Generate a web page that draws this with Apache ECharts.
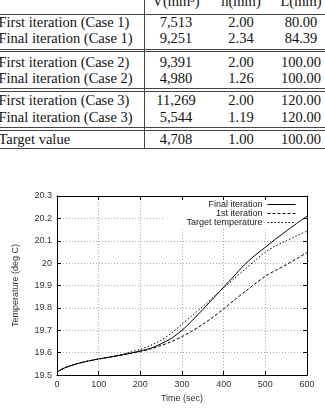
<!DOCTYPE html>
<html>
<head>
<meta charset="utf-8">
<script src="https://cdn.jsdelivr.net/npm/echarts@6/dist/echarts.min.js"></script>
<style>
  html, body { margin: 0; padding: 0; background: #fff; }
  #page { position: relative; width: 325px; height: 408px; overflow: hidden; background: #fff; }
  #table { position: absolute; left: 0; top: 0; width: 325px; height: 150px; z-index: 2;
    font-family: "Liberation Serif", "DejaVu Serif", serif; font-size: 14.5px; color: #111; }
  .cell { position: absolute; height: 16px; line-height: 16px; white-space: nowrap; }
  .num { width: 70px; margin-left: -35px; text-align: center; }
  .hl { position: absolute; left: 0; width: 325px; height: 1px; background: #444; }
  .vl { position: absolute; left: 144px; top: 0; width: 1px; height: 149px; background: #444; }
  #chart { position: absolute; left: 0; top: 150px; width: 325px; height: 258px; }
</style>
</head>
<body>
<div id="page">
  <div id="table"></div>
  <div id="chart"></div>
</div>
<script>
// table contents
const rowLabels = ['First iteration (Case 1)', 'Final iteration (Case 1)',
  'First iteration (Case 2)', 'Final iteration (Case 2)',
  'First iteration (Case 3)', 'Final iteration (Case 3)', 'Target value']
const colHeaders = ['V(mm³)', 'h(mm)', 'L(mm)']
const volumes = ['7,513', '9,251', '9,391', '4,980', '11,269', '5,544', '4,708']
const thickness = ['2.00', '2.34', '2.00', '1.26', '2.00', '1.19', '1.00']
const lengths = ['80.00', '84.39', '100.00', '100.00', '120.00', '120.00', '100.00']

// chart data
const times = [0, 10, 25, 50, 75, 100, 125, 150, 175, 200, 225, 250, 275, 300,
  325, 350, 375, 400, 425, 450, 475, 500, 525, 550, 575, 600]
const finalIter = [19.513, 19.525, 19.537, 19.552, 19.563, 19.572, 19.580, 19.588, 19.597,
  19.608, 19.620, 19.640, 19.665, 19.700, 19.745, 19.793, 19.843, 19.893, 19.943, 19.993,
  20.035, 20.071, 20.108, 20.143, 20.177, 20.210]
const firstIter = [19.513, 19.525, 19.537, 19.552, 19.563, 19.572, 19.580, 19.588, 19.596,
  19.605, 19.617, 19.632, 19.650, 19.672, 19.698, 19.727, 19.760, 19.796, 19.834, 19.871,
  19.907, 19.942, 19.968, 19.993, 20.020, 20.047]
const targetTemp = [19.513, 19.525, 19.537, 19.552, 19.563, 19.572, 19.580, 19.590, 19.602,
  19.615, 19.633, 19.656, 19.688, 19.728, 19.767, 19.807, 19.848, 19.890, 19.931, 19.971,
  20.011, 20.050, 20.077, 20.100, 20.122, 20.143]

// build the table
const tbl = document.getElementById('table')
const rowY = [22, 38, 62, 78, 100, 117, 139]
const colX = [176, 241, 301]
function addCell(text, x, y, cls) {
  const d = document.createElement('div')
  d.className = 'cell ' + (cls || '')
  d.textContent = text
  d.style.left = x + 'px'
  d.style.top = (y - 8) + 'px'
  tbl.appendChild(d)
}
colHeaders.forEach((h, i) => addCell(h, colX[i], 1, 'num'))
rowLabels.forEach((lab, r) => {
  addCell(lab, -1.5, rowY[r])
  addCell(volumes[r], colX[0], rowY[r], 'num')
  addCell(thickness[r], colX[1], rowY[r], 'num')
  addCell(lengths[r], colX[2], rowY[r], 'num')
})
;[14, 49, 51, 88, 91, 127, 130, 148].forEach(y => {
  const d = document.createElement('div')
  d.className = 'hl'
  d.style.top = y + 'px'
  tbl.appendChild(d)
})
const vl = document.createElement('div')
vl.className = 'vl'
tbl.appendChild(vl)

// chart
const pairs = (ys) => times.map((t, i) => [t, ys[i]])
const font = '"Liberation Sans", Arial, sans-serif'
const labelStyle = { fontSize: 9, color: '#333', fontFamily: font }
const gridLine = { show: true, lineStyle: { color: '#aaa', width: 1, type: [1, 2] } }
const frame = { show: true, onZero: false, lineStyle: { color: '#000', width: 1 } }
const ticks = { show: true, inside: true, length: 4, lineStyle: { color: '#000', width: 1 } }
const hiddenDot = { opacity: 0, color: 'transparent', borderWidth: 0 }

const chart = echarts.init(document.getElementById('chart'), null, { renderer: 'canvas' })
chart.setOption({
  animation: false,
  backgroundColor: 'transparent',
  grid: { left: 57, right: 18, top: 46, bottom: 25 },
  legend: {
    orient: 'vertical',
    align: 'right',
    right: 20,
    top: 46,
    padding: [4, 9, 2, 22],
    itemGap: 0,
    itemWidth: 28,
    itemHeight: 9,
    backgroundColor: '#fff',
    textStyle: { fontSize: 9, color: '#222', fontFamily: font, lineHeight: 9 },
    data: [
      { name: 'Final iteration', itemStyle: hiddenDot, lineStyle: { width: 1, type: 'solid' } },
      { name: '1st iteration', itemStyle: hiddenDot, lineStyle: { width: 1, type: [3, 2] } },
      { name: 'Target temperature', itemStyle: hiddenDot, lineStyle: { width: 1, type: [1.5, 2] } }
    ]
  },
  xAxis: [
    {
      type: 'value', min: 0, max: 600, interval: 100, position: 'bottom',
      axisLine: frame, axisTick: ticks, splitLine: gridLine,
      axisLabel: Object.assign({ margin: 5 }, labelStyle),
      name: 'Time (sec)', nameLocation: 'middle', nameGap: 18,
      nameTextStyle: labelStyle
    },
    {
      type: 'value', min: 0, max: 600, interval: 100, position: 'top', z: 6,
      axisLine: frame, axisTick: ticks, splitLine: { show: false },
      axisLabel: { show: false }
    }
  ],
  yAxis: [
    {
      type: 'value', min: 19.5, max: 20.3, interval: 0.1, position: 'left',
      axisLine: frame, axisTick: ticks, splitLine: gridLine,
      axisLabel: Object.assign({
        margin: 5,
        formatter: (v) => String(parseFloat(v.toFixed(1)))
      }, labelStyle),
      name: 'Temperature (deg C)', nameLocation: 'middle', nameGap: 37,
      nameRotate: 90, nameTextStyle: labelStyle
    },
    {
      type: 'value', min: 19.5, max: 20.3, interval: 0.1, position: 'right', z: 6,
      axisLine: frame, axisTick: ticks, splitLine: { show: false },
      axisLabel: { show: false }
    }
  ],
  series: [
    {
      name: 'Final iteration', type: 'line', data: pairs(finalIter), smooth: 0.3,
      symbol: 'none', z: 5, color: '#000',
      lineStyle: { color: '#000', width: 1, type: 'solid' }
    },
    {
      name: '1st iteration', type: 'line', data: pairs(firstIter), smooth: 0.3,
      symbol: 'none', z: 5, color: '#000',
      lineStyle: { color: '#000', width: 1, type: [3, 2] }
    },
    {
      name: 'Target temperature', type: 'line', data: pairs(targetTemp), smooth: 0.3,
      symbol: 'none', z: 5, color: '#000',
      lineStyle: { color: '#000', width: 1, type: [1.5, 2] }
    }
  ]
})
</script>
</body>
</html>
